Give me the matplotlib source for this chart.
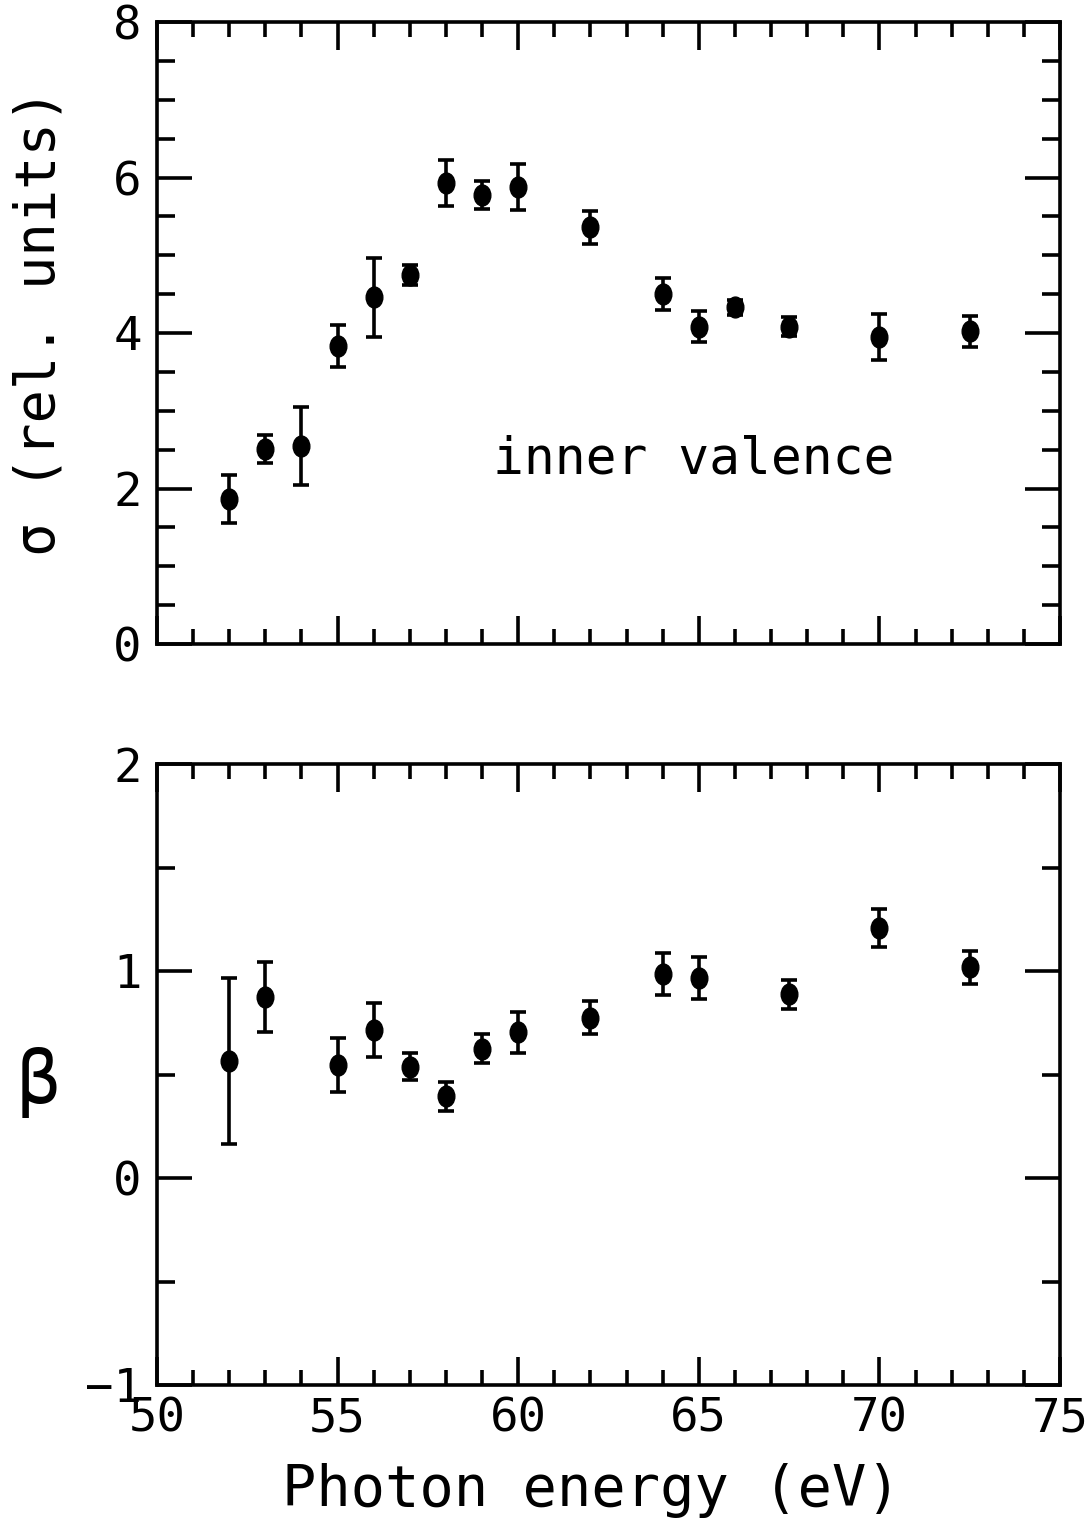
import numpy as np
import matplotlib
matplotlib.use('Agg')
import matplotlib.pyplot as plt
from matplotlib.path import Path
from matplotlib.transforms import Affine2D
from matplotlib.ticker import MultipleLocator

# photon energies (eV)
energy_sigma = [52.0, 53.0, 54.0, 55.0, 56.0, 57.0, 58.0, 59.0, 60.0,
                62.0, 64.0, 65.0, 66.0, 67.5, 70.0, 72.5]
sigma = [1.86, 2.51, 2.55, 3.83, 4.46, 4.75, 5.93, 5.77, 5.88,
         5.36, 4.50, 4.08, 4.33, 4.08, 3.95, 4.02]
sigma_err = [0.31, 0.18, 0.50, 0.27, 0.51, 0.13, 0.30, 0.18, 0.30,
             0.21, 0.21, 0.20, 0.10, 0.12, 0.30, 0.20]

energy_beta = [52.0, 53.0, 55.0, 56.0, 57.0, 58.0, 59.0, 60.0,
               62.0, 64.0, 65.0, 67.5, 70.0, 72.5]
beta = [0.565, 0.875, 0.546, 0.713, 0.537, 0.396, 0.625, 0.704,
        0.775, 0.985, 0.967, 0.888, 1.208, 1.017]
beta_err = [0.40, 0.17, 0.13, 0.13, 0.065, 0.07, 0.07, 0.10,
            0.08, 0.10, 0.10, 0.07, 0.09, 0.08]

x_ticks = [50, 55, 60, 65, 70, 75]

W, H = 1091, 1525
fig = plt.figure(figsize=(W / 100, H / 100), dpi=100)
plt.rcParams['font.family'] = 'DejaVu Sans Mono'

# slightly tall elliptic marker, like the plotter dots
ellipse = Affine2D().scale(0.8, 1.0).transform_path(Path.unit_circle())


def frame(rect):
    ax = fig.add_axes(rect)
    for s in ax.spines.values():
        s.set_linewidth(2.6)
    ax.set_xlim(50, 75)
    ax.xaxis.set_major_locator(MultipleLocator(5))
    ax.xaxis.set_minor_locator(MultipleLocator(1))
    ax.tick_params(which='both', direction='in', top=True, right=True,
                   width=2.6, labelsize=34, colors='black')
    ax.tick_params(axis='x', which='major', length=20, pad=8)
    ax.tick_params(axis='x', which='minor', length=11)
    ax.tick_params(axis='y', which='major', length=25, pad=11)
    ax.tick_params(axis='y', which='minor', length=13)
    return ax


def points(ax, x, y, e):
    ax.errorbar(x, y, yerr=e, fmt='none', ecolor='black', elinewidth=2.6,
                capsize=6, capthick=2.6)
    ax.plot(x, y, linestyle='none', marker=ellipse, markersize=15,
            color='black')


# ---------------------------------------------------------------- sigma
top = frame([157 / W, 1 - 644 / H, 903 / W, 622 / H])
top.set_ylim(0, 8)
top.yaxis.set_major_locator(MultipleLocator(2))
top.yaxis.set_minor_locator(MultipleLocator(0.5))
top.tick_params(axis='x', which='both', labelbottom=False)
points(top, energy_sigma, sigma, sigma_err)
top.text(59.3, 2.37, 'inner valence', fontsize=37, va='center', ha='left')

# ----------------------------------------------------------------- beta
bot = frame([157 / W, 1 - 1385 / H, 903 / W, 621 / H])
bot.set_ylim(-1, 2)
bot.yaxis.set_major_locator(MultipleLocator(1))
bot.yaxis.set_minor_locator(MultipleLocator(0.5))
bot.set_xticks(x_ticks)
points(bot, energy_beta, beta, beta_err)

fig.text(40 / W, 1 - 322 / H, '\u03c3 (rel. units)', rotation=90,
         fontsize=40, ha='center', va='center')
fig.text(38 / W, 1 - 1082 / H, '\u03b2', fontsize=52,
         ha='center', va='center')
fig.text(591 / W, 1 - 1490 / H, 'Photon energy (eV)', fontsize=41,
         ha='center', va='center')

fig.savefig('out.png', dpi=100)
